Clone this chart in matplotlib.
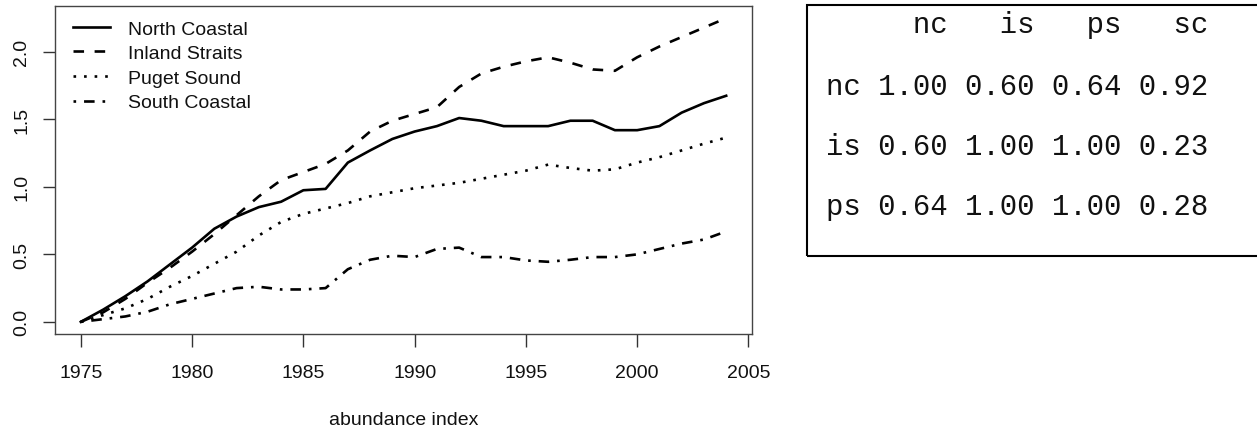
import matplotlib
matplotlib.use("Agg")
import matplotlib.pyplot as plt
from matplotlib.patches import Rectangle

years = list(range(1975, 2005))
north_coastal = [0.00, 0.09, 0.19, 0.30, 0.425, 0.55, 0.69, 0.78, 0.85, 0.89, 0.975, 0.985, 1.18, 1.27, 1.355, 1.41, 1.45, 1.51, 1.49, 1.45,
                 1.45, 1.45, 1.49, 1.49, 1.42, 1.42, 1.45, 1.55, 1.62, 1.675]
inland_straits = [0.00, 0.07, 0.17, 0.29, 0.40, 0.52, 0.65, 0.79, 0.93, 1.05, 1.11, 1.17, 1.27, 1.41, 1.49, 1.54, 1.59, 1.74, 1.84, 1.89,
                  1.93, 1.96, 1.92, 1.87, 1.86, 1.96, 2.04, 2.11, 2.18, 2.25]
puget_sound = [0.00, 0.05, 0.10, 0.17, 0.26, 0.34, 0.43, 0.52, 0.64, 0.74, 0.80, 0.84, 0.88, 0.93, 0.96, 0.99, 1.01, 1.03, 1.06, 1.09,
               1.12, 1.165, 1.14, 1.12, 1.13, 1.18, 1.22, 1.27, 1.32, 1.365]
south_coastal = [0.00, 0.02, 0.04, 0.075, 0.13, 0.17, 0.21, 0.25, 0.26, 0.24, 0.24, 0.25, 0.39, 0.46, 0.49, 0.48, 0.54, 0.55, 0.48, 0.48,
                 0.455, 0.445, 0.46, 0.48, 0.48, 0.50, 0.54, 0.58, 0.61, 0.67]
series_labels = ["North Coastal", "Inland Straits", "Puget Sound", "South Coastal"]
x_ticks = [1975, 1980, 1985, 1990, 1995, 2000, 2005]
y_ticks = [0.0, 0.5, 1.0, 1.5, 2.0]
x_label = "abundance index"

table_cols = ["nc", "is", "ps", "sc"]
table_rows = ["nc", "is", "ps"]
table_vals = [[1.00, 0.60, 0.64, 0.92],
              [0.60, 1.00, 1.00, 0.23],
              [0.64, 1.00, 1.00, 0.28]]

W, H = 1257, 431
fig = plt.figure(figsize=(W / 100, H / 100), dpi=100)
plt.rcParams['font.family'] = ['Liberation Sans', 'DejaVu Sans']

def fx(px):
    return px / W

def fy(py):
    return 1 - py / H

ax = fig.add_axes([fx(55), fy(335), fx(752) - fx(55), fy(7) - fy(335)])

lw = 1.9
styles = ['-', (0, (4, 4)), (0, (1, 3)), (0, (1, 3, 4, 3))]
for vals, lab, ls in zip([north_coastal, inland_straits, puget_sound, south_coastal], series_labels, styles):
    ax.plot(years, vals, color='black', linewidth=lw, linestyle=ls, label=lab)

span_x = years[-1] - years[0]
ax.set_xlim(years[0] - 0.04 * span_x, years[-1] + 0.04 * span_x)
allv = north_coastal + inland_straits + puget_sound + south_coastal
span_y = max(allv) - min(allv)
ax.set_ylim(min(allv) - 0.04 * span_y, max(allv) + 0.04 * span_y)

ax.set_xticks(x_ticks)
ax.set_xticklabels([str(t) for t in x_ticks])
ax.set_yticks(y_ticks)
ax.set_yticklabels([f"{t:.1f}" for t in y_ticks], rotation=90, va='center')
ax.tick_params(axis='both', labelsize=14, length=9, width=1, color='#333333', labelcolor='#111111')
ax.tick_params(axis='x', pad=12.5)
ax.tick_params(axis='y', pad=9)
for s in ax.spines.values():
    s.set_color('#444444')
    s.set_linewidth(1.0)

leg = ax.legend(loc='upper left', bbox_to_anchor=(fx(73), fy(21)), bbox_transform=fig.transFigure,
                frameon=False, fontsize=14, handlelength=1.9, handletextpad=0.95,
                labelspacing=0.36, borderpad=0, borderaxespad=0)
for t in leg.get_texts():
    t.set_color('#111111')

fig.text(fx(403.5), fy(425), x_label, ha='center', va='baseline', fontsize=14, color='#111111')

# correlation table
fig.patches.append(Rectangle((fx(807), fy(257)), 1.2 - fx(807), fy(6) - fy(257),
                             transform=fig.transFigure, fill=False, edgecolor='black', linewidth=1.5))
header = " " * (len(table_rows[0]) + 1) + " ".join(f"{c:>4}" for c in table_cols)
lines = [header] + [f"{r} " + " ".join(f"{v:.2f}" for v in row) for r, row in zip(table_rows, table_vals)]
baselines = [33, 95, 155, 215]
for line, b in zip(lines, baselines):
    fig.text(fx(826), fy(b), line, ha='left', va='baseline', fontsize=20.9,
             family=['Liberation Mono', 'DejaVu Sans Mono'], color='#111111')

fig.savefig("out.png", dpi=100)
